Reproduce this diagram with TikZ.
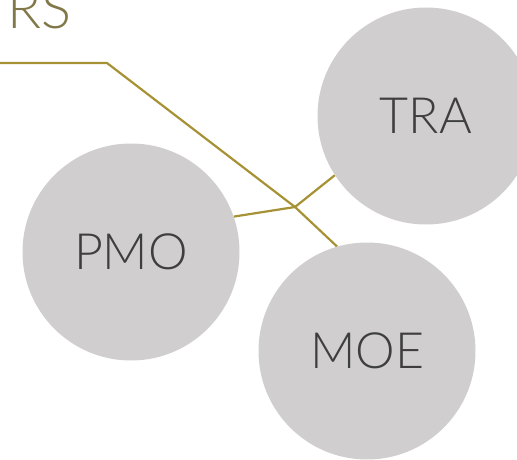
\documentclass[tikz,border=0pt]{standalone}
\usepackage{fontspec}
\usetikzlibrary{backgrounds}
\newfontfamily\lightfont{Lato Light}
\definecolor{circfill}{RGB}{208,206,207}
\definecolor{labelgray}{RGB}{62,62,62}
\definecolor{gold}{RGB}{166,146,52}
\definecolor{olive}{RGB}{128,120,72}
\tikzset{
  bubble/.style={circle, fill=circfill, minimum size=217pt, inner sep=0pt,
    text=labelgray, font=\lightfont\fontsize{50}{60}\selectfont},
  link/.style={draw=gold, line width=2.2pt, line join=miter}
}
\begin{document}
\begin{tikzpicture}[x=1pt,y=-1pt]
\useasboundingbox (0,0) rectangle (517,460);
\coordinate (start) at (-2,63);
\coordinate (bend) at (107,63);
\coordinate (j) at (295,207);
\node[bubble] (tra) at (426,116) {TRA};
\node[bubble] (pmo) at (131,252) {PMO};
\node[bubble] (moe) at (367,351) {MOE};
\begin{scope}[on background layer]
\draw[link] (start) -- (bend) -- (j) -- (moe.106);
\draw[link] (pmo.19) -- (j) -- (tra.213);
\end{scope}
\node[anchor=base east, text=olive, font=\lightfont\fontsize{56}{60}\selectfont, inner sep=0pt] (title) at (72,29) {RS};
\end{tikzpicture}
\end{document}
